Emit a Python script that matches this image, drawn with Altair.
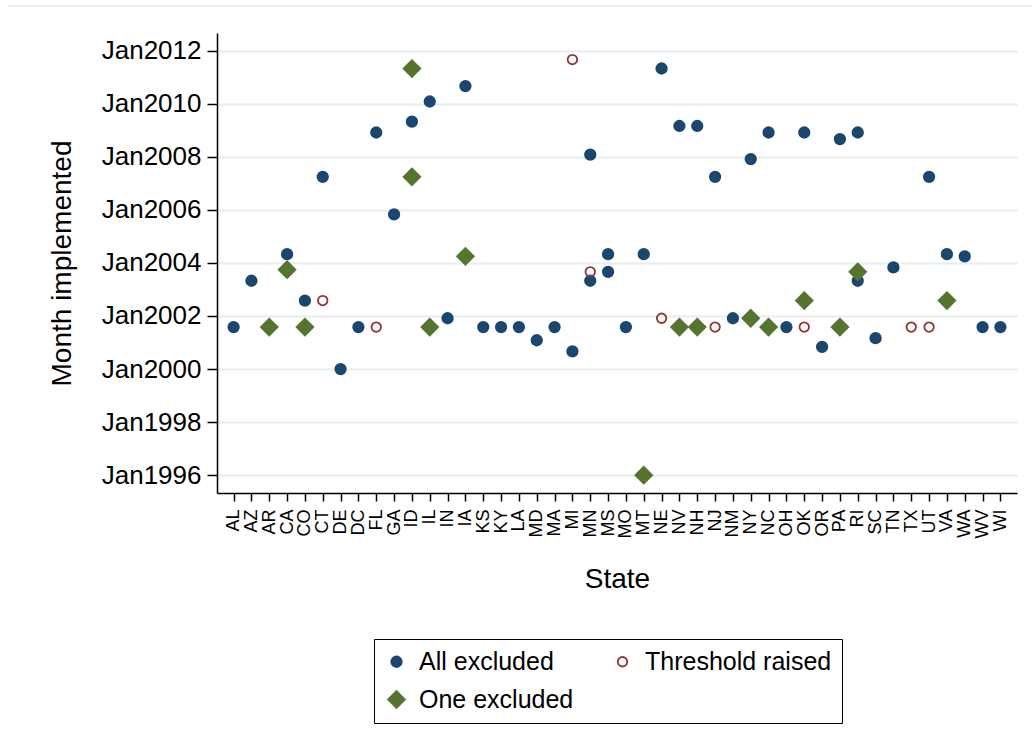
import altair as alt
import pandas as pd

FONT = "Liberation Sans"

states = ["AL", "AZ", "AR", "CA", "CO", "CT", "DE", "DC", "FL", "GA", "ID", "IL",
          "IN", "IA", "KS", "KY", "LA", "MD", "MA", "MI", "MN", "MS", "MO", "MT",
          "NE", "NV", "NH", "NJ", "NM", "NY", "NC", "OH", "OK", "OR", "PA", "RI",
          "SC", "TN", "TX", "UT", "VA", "WA", "WV", "WI"]

series_names = ["All excluded", "One excluded", "Threshold raised"]

all_states = ["AL", "AZ", "CA", "CO", "CT", "DE", "DC", "FL", "GA", "ID", "IL", "IN",
              "IA", "KS", "KY", "LA", "MD", "MA", "MI", "MN", "MN", "MS", "MS", "MO",
              "MT", "NE", "NV", "NH", "NJ", "NM", "NY", "NC", "OH", "OK", "OR", "PA",
              "RI", "RI", "SC", "TN", "UT", "VA", "WA", "WV", "WI"]
all_months = ["2001-08", "2003-05", "2004-05", "2002-08", "2007-04", "2000-01", "2001-08",
              "2008-12", "2005-11", "2009-05", "2010-02", "2001-12", "2010-09", "2001-08",
              "2001-08", "2001-08", "2001-02", "2001-08", "2000-09", "2008-02", "2003-05",
              "2004-05", "2003-09", "2001-08", "2004-05", "2011-05", "2009-03", "2009-03",
              "2007-04", "2001-12", "2007-12", "2008-12", "2001-08", "2008-12", "2000-11",
              "2008-09", "2008-12", "2003-05", "2001-03", "2003-11", "2007-04", "2004-05",
              "2004-04", "2001-08", "2001-08"]

one_states = ["AR", "CA", "CO", "ID", "ID", "IL", "IA", "MT", "NV", "NH", "NY", "NC",
              "OK", "PA", "RI", "VA"]
one_months = ["2001-08", "2003-10", "2001-08", "2011-05", "2007-04", "2001-08", "2004-04",
              "1996-01", "2001-08", "2001-08", "2001-12", "2001-08", "2002-08", "2001-08",
              "2003-09", "2002-08"]

thr_states = ["CT", "FL", "MI", "MN", "NE", "NJ", "OK", "TX", "UT"]
thr_months = ["2002-08", "2001-08", "2011-09", "2003-09", "2001-12", "2001-08", "2001-08",
              "2001-08", "2001-08"]

frames = []
for name, st, mo in [("All excluded", all_states, all_months),
                     ("One excluded", one_states, one_months),
                     ("Threshold raised", thr_states, thr_months)]:
    frames.append(pd.DataFrame({"state": st, "month": pd.to_datetime(mo), "series": name}))
df = pd.concat(frames, ignore_index=True)

leg = alt.Legend(
    orient="none", legendX=157, legendY=606, columns=2, title=None,
    labelFont=FONT, labelFontSize=25, labelColor="black", labelOffset=10, labelLimit=400,
    symbolStrokeWidth=1.8, strokeColor="black", padding=10,
    rowPadding=12, columnPadding=36,
)

points = alt.Chart(df).mark_point(strokeWidth=1.8, opacity=1).encode(
    x=alt.X("state:N", sort=states,
            scale=alt.Scale(type="point", padding=0.93, domain=states),
            axis=alt.Axis(title="State", labelAngle=270, labelFontSize=18, labelPadding=8,
                          tickSize=8, grid=False, titleFontSize=28,
                          titleX=400, titleY=86, titleAlign="center", titleBaseline="middle")),
    y=alt.Y("month:T",
            scale=alt.Scale(domain=[alt.DateTime(year=1995, month=5, date=1),
                                    alt.DateTime(year=2012, month=9, date=1)]),
            axis=alt.Axis(title="Month implemented",
                          values=[alt.DateTime(year=y, month=1, date=1) for y in range(1996, 2013, 2)],
                          format="%b%Y", labelFontSize=26, labelPadding=6, tickSize=10,
                          grid=True, gridColor="#e6eef0", gridWidth=2, titleFontSize=28,
                          titleX=-155, titleY=230, titleAngle=270, titleAlign="center",
                          titleBaseline="middle")),
    fill=alt.Fill("series:N", scale=alt.Scale(domain=series_names,
                                              range=["#1a476f", "#55752f", "transparent"]), legend=leg),
    stroke=alt.Stroke("series:N", scale=alt.Scale(domain=series_names,
                                                  range=["#1a476f", "#55752f", "#90353b"]), legend=leg),
    shape=alt.Shape("series:N", scale=alt.Scale(domain=series_names,
                                                range=["circle", "diamond", "circle"]), legend=leg),
    size=alt.Size("series:N", scale=alt.Scale(type="ordinal", domain=series_names,
                                              range=[110, 280, 90]), legend=leg),
)

top_line = alt.Chart(pd.DataFrame({"k": [0]})).mark_rule(color="#e8eff0", strokeWidth=2).encode(
    x=alt.value(-209), x2=alt.value(815), y=alt.value(-27)
)

chart = alt.layer(top_line, points).properties(
    width=800, height=460,
    autosize=alt.AutoSizeParams(type="none"),
    padding={"left": 217, "top": 33, "right": 15, "bottom": 262},
).configure_view(stroke="transparent").configure_axis(
    labelFont=FONT, titleFont=FONT, labelColor="black", titleColor="black",
    domainColor="black", tickColor="black", domainWidth=1.5, tickWidth=1.5,
    titleFontWeight="normal",
)

chart.save("out.html", embed_options={"renderer": "svg", "actions": False})
